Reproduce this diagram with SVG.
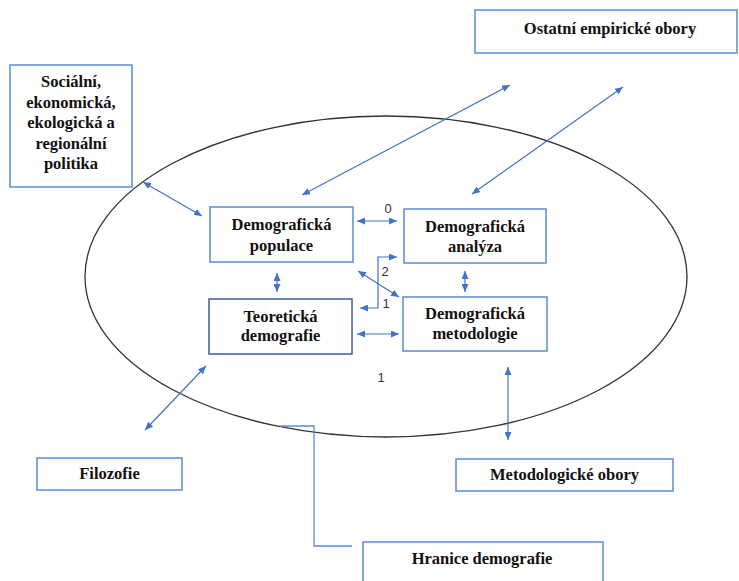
<svg xmlns="http://www.w3.org/2000/svg" width="739" height="581" viewBox="0 0 739 581">
<style>
.box{fill:#fff;stroke:#5B8BD5;stroke-width:1.5}
.dark{stroke:#3F5E9A}
.t{font-family:"Liberation Serif","Times New Roman",serif;font-weight:bold;font-size:16.5px;fill:#111;text-anchor:middle}
.n{font-family:"Liberation Sans",Arial,sans-serif;font-size:13px;fill:#333;text-anchor:middle}
.c{fill:none;stroke:#4472C4;stroke-width:1.2;marker-start:url(#ah);marker-end:url(#ah)}
</style>
<defs>
<marker id="ah" viewBox="0 0 8 7" refX="8" refY="3.5" markerWidth="8" markerHeight="7" markerUnits="userSpaceOnUse" orient="auto-start-reverse">
<path d="M0,0 L8,3.5 L0,7 z" fill="#4472C4"/>
</marker>
</defs>
<rect width="739" height="581" fill="#fff"/>
<ellipse id="boundary" cx="386" cy="276.5" rx="301" ry="160.5" fill="none" stroke="#333" stroke-width="1.3"/>
<g id="connectors">
<path class="c" d="M302,195 L510,85"/>
<path class="c" d="M472,194 L623,87"/>
<path class="c" d="M143,182 L202,216"/>
<path class="c" d="M206,366 L145,430"/>
<path class="c" d="M508,367 L508,440"/>
<path class="c" d="M357,221 L397,221"/>
<path class="c" d="M277,273 L277,292"/>
<path class="c" d="M465,271 L465,292"/>
<path class="c" d="M357,334 L399,334"/>
<path class="c" d="M358,271 L399,297"/>
<path class="c" d="M360,308 H378 V257 H397"/>
<path d="M280,426 H314 V546 H352" fill="none" stroke="#5B8BD5" stroke-width="1.3"/>
</g>
<g id="ostatni"><rect class="box" x="475" y="10" width="262" height="43"/><text class="t" x="610" y="34">Ostatní empirické obory</text></g>
<g id="socialni"><rect class="box" x="10" y="65" width="122" height="122"/>
<text class="t" x="71" y="87">Sociální,</text>
<text class="t" x="71" y="107.5">ekonomická,</text>
<text class="t" x="71" y="128">ekologická a</text>
<text class="t" x="71" y="148.5">regionální</text>
<text class="t" x="71" y="169">politika</text></g>
<g id="populace"><rect class="box" x="210" y="207" width="143" height="55"/><text class="t" x="281.5" y="230">Demografická</text><text class="t" x="281.5" y="251">populace</text></g>
<g id="analyza"><rect class="box" x="404" y="209" width="142" height="54"/><text class="t" x="475" y="232">Demografická</text><text class="t" x="475" y="252">analýza</text></g>
<g id="teoreticka"><rect class="box dark" x="209" y="299" width="143" height="55"/><text class="t" x="280.5" y="322">Teoretická</text><text class="t" x="280.5" y="341">demografie</text></g>
<g id="metodologie"><rect class="box" x="403" y="297" width="144" height="54"/><text class="t" x="475" y="319">Demografická</text><text class="t" x="475" y="339">metodologie</text></g>
<g id="filozofie"><rect class="box" x="37" y="458" width="145" height="32"/><text class="t" x="109.5" y="479">Filozofie</text></g>
<g id="metodologicke"><rect class="box" x="456" y="459" width="217" height="32"/><text class="t" x="564.5" y="480">Metodologické obory</text></g>
<g id="hranice"><rect class="box" x="363" y="542" width="240" height="50"/><text class="t" x="482" y="564">Hranice demografie</text></g>
<g id="labels">
<text class="n" x="388" y="213">0</text>
<text class="n" x="385" y="276">2</text>
<text class="n" x="386" y="308">1</text>
<text class="n" x="381" y="382">1</text>
</g>
</svg>
